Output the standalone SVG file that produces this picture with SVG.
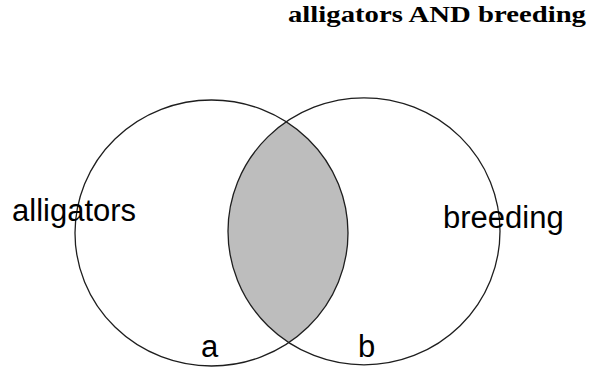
<svg xmlns="http://www.w3.org/2000/svg" width="595" height="369" viewBox="0 0 595 369">
  <style>
    .set { fill: none; stroke: #1e1e1e; stroke-width: 1.3; }
    .overlap { fill: #bdbdbd; stroke: none; }
    .label { font-family: "Liberation Sans", Arial, sans-serif; font-size: 31px; fill: #000; }
    .title { font-family: "Liberation Serif", "Times New Roman", serif; font-weight: bold; font-size: 23px; fill: #000; }
  </style>
  <defs>
    <clipPath id="clip-alligators">
      <ellipse cx="211.5" cy="233" rx="136.5" ry="133"/>
    </clipPath>
  </defs>

  <text class="title" x="288" y="22" textLength="298" lengthAdjust="spacingAndGlyphs">alligators AND breeding</text>

  <!-- shaded overlap: breeding set clipped to the alligators set -->
  <g id="intersection">
    <ellipse class="overlap" cx="364" cy="231.3" rx="136" ry="133.5" clip-path="url(#clip-alligators)"/>
  </g>

  <g id="set-alligators">
    <ellipse class="set" cx="211.5" cy="233" rx="136.5" ry="133"/>
    <text class="label" x="12" y="221">alligators</text>
  </g>

  <g id="set-breeding">
    <ellipse class="set" cx="364" cy="231.3" rx="136" ry="133.5"/>
    <text class="label" x="443" y="228">breeding</text>
  </g>

  <g id="region-labels">
    <text class="label" x="201" y="357" font-size="29">a</text>
    <text class="label" x="358" y="357" font-size="29">b</text>
  </g>
</svg>
